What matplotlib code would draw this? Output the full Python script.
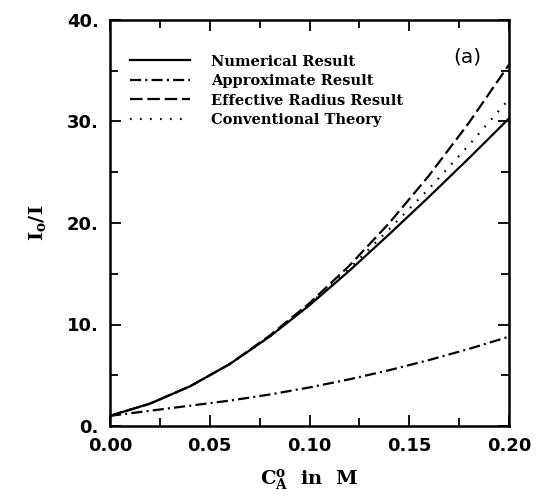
import matplotlib
matplotlib.use("Agg")
import matplotlib.pyplot as plt
from matplotlib.ticker import MultipleLocator, FormatStrFormatter

plt.rcParams['lines.scale_dashes'] = False
plt.rcParams['mathtext.fontset'] = 'dejavuserif'

# concentration C_A in M
conc = [0.0, 0.02, 0.04, 0.06, 0.08, 0.10, 0.12, 0.14, 0.16, 0.18, 0.20]

numerical = [1.0, 2.2, 3.9, 6.1, 8.8, 11.9, 15.3, 18.9, 22.6, 26.4, 30.3]
approximate = [1.0, 1.5, 2.0, 2.5, 3.1, 3.8, 4.6, 5.5, 6.5, 7.6, 8.8]
effective = [1.0, 2.2, 3.9, 6.1, 8.9, 12.1, 15.8, 20.0, 24.7, 29.9, 35.6]
conventional = [1.0, 2.2, 3.9, 6.1, 8.8, 12.0, 15.5, 19.4, 23.4, 27.7, 32.2]

legend_labels = ['Numerical Result', 'Approximate Result',
                 'Effective Radius Result', 'Conventional Theory']

fig = plt.figure(figsize=(5.37, 5.0), dpi=100)
ax = fig.add_axes([110 / 537, 1 - 426 / 500, 399 / 537, 406 / 500])

lw = 1.6
ax.plot(conc, numerical, '-', color='black', lw=lw, label=legend_labels[0])
ax.plot(conc, approximate, color='black', lw=lw, dashes=(8, 3, 1.5, 3),
        label=legend_labels[1])
ax.plot(conc, effective, color='black', lw=lw, dashes=(9, 3.5),
        label=legend_labels[2])
ax.plot(conc, conventional, color='black', lw=lw, dashes=(1.2, 6),
        label=legend_labels[3])

ax.set_xlim(0, 0.2)
ax.set_ylim(0, 40)
ax.xaxis.set_major_locator(MultipleLocator(0.05))
ax.xaxis.set_minor_locator(MultipleLocator(0.025))
ax.yaxis.set_major_locator(MultipleLocator(10))
ax.yaxis.set_minor_locator(MultipleLocator(5))
ax.xaxis.set_major_formatter(FormatStrFormatter('%.2f'))
ax.yaxis.set_major_formatter(FormatStrFormatter('%d.'))
ax.tick_params(which='both', direction='in', top=True, right=True,
               width=1.3, labelsize=13, pad=8)
ax.tick_params(which='major', length=8)
ax.tick_params(which='minor', length=6)
for lab in ax.get_xticklabels() + ax.get_yticklabels():
    lab.set_fontweight('bold')
for sp in ax.spines.values():
    sp.set_linewidth(1.8)

ax.set_xlabel(r'$\mathbf{C^o_A}$  in  M', fontsize=14, fontweight='bold',
              family='DejaVu Serif', labelpad=9)
ax.set_ylabel(r'$\mathbf{I_o}$/I', fontsize=14, fontweight='bold',
              family='DejaVu Serif', labelpad=14)

ax.text(0.895, 0.91, '(a)', transform=ax.transAxes, fontsize=14.5,
        ha='center', va='center')

leg = ax.legend(loc='upper left', bbox_to_anchor=(0.05, 0.915), frameon=False,
                borderpad=0, borderaxespad=0,
                handlelength=4.1, handletextpad=1.45, labelspacing=0.38,
                prop={'family': 'DejaVu Serif', 'weight': 'bold', 'size': 10.5})

fig.savefig('out.png', dpi=100)
